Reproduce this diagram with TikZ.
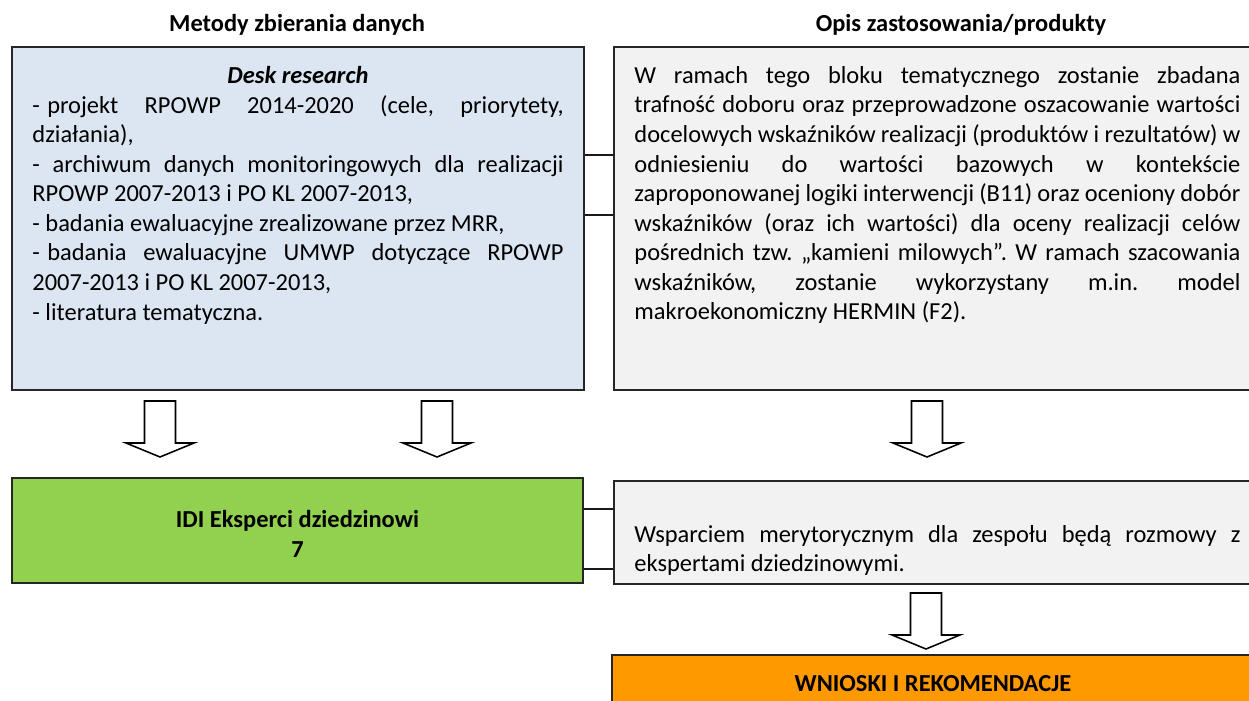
\documentclass[tikz,border=0pt]{standalone}
\usepackage{fontspec}
\setmainfont{Carlito}
\usetikzlibrary{positioning}

\definecolor{deskblue}{HTML}{DCE6F2}
\definecolor{opisgray}{HTML}{F2F2F2}
\definecolor{idigreen}{HTML}{92D050}
\definecolor{wnioskiorange}{HTML}{FF9900}
\newcommand{\itemdash}{-\kern0.3em}
\hyphenpenalty=10000
\exhyphenpenalty=10000
\frenchspacing

\begin{document}
\begin{tikzpicture}[x=0.45pt, y=-0.45pt,
  every node/.style={font=\fontsize{11}{13.3}\selectfont},
  box/.style={draw=black!85, line width=1.1pt, inner sep=0pt},
  title/.style={font=\fontsize{11}{13.3}\selectfont\bfseries},
  textblock/.style={anchor=north west, inner sep=0pt, align=justify},
  link/.style={draw=black!90, line width=0.9pt},
  blockarrow/.style={draw=black, fill=white, line width=0.7pt}]
  \useasboundingbox (0,0) rectangle (1249,701);
  \clip (0,0) rectangle (1249,701);

  % Titles
  \node[title] (ltitle) at (297,25) {Metody zbierania danych};
  \node[title] (rtitle) at (961,25) {Opis zastosowania/produkty};

  % Upper row
  \node[box, fill=deskblue, minimum width=257.4pt, minimum height=154.35pt] (desk) at (298,218.5) {};
  \node[box, fill=opisgray, minimum width=288pt, minimum height=154.35pt] (opis) at (934,218.5) {};

  \node[textblock, text width=239pt] (desktxt) at (32,66) {%
    \makebox[\linewidth]{\bfseries\itshape Desk research}\par
    \itemdash projekt RPOWP 2014-2020 (cele, priorytety,\linebreak działania),\par
    - archiwum danych monitoringowych dla realizacji\linebreak RPOWP 2007-2013 i PO KL 2007-2013,\par
    - badania ewaluacyjne zrealizowane przez MRR,\par
    \itemdash badania ewaluacyjne UMWP dotyczące RPOWP\linebreak 2007-2013 i PO KL 2007-2013,\par
    - literatura tematyczna.};

  \node[textblock, text width=272.7pt] (opistxt) at (634,66) {%
    W ramach tego bloku tematycznego zostanie zbadana\linebreak
    trafność doboru oraz przeprowadzone oszacowanie wartości\linebreak
    docelowych wskaźników realizacji (produktów i rezultatów) w\linebreak
    odniesieniu do wartości bazowych w kontekście\linebreak
    zaproponowanej logiki interwencji (B11) oraz oceniony dobór\linebreak
    wskaźników (oraz ich wartości) dla oceny realizacji celów\linebreak
    pośrednich tzw. „kamieni milowych”. W ramach szacowania\linebreak
    wskaźników, zostanie wykorzystany m.in. model\linebreak
    makroekonomiczny HERMIN (F2).};

  \draw[link] (desk.east |- 0,155) -- (opis.west |- 0,155);
  \draw[link] (desk.east |- 0,215) -- (opis.west |- 0,215);

  % Arrows
  \coordinate (a1) at (160,401);
  \coordinate (a2) at (437,401);
  \coordinate (a3) at (927,401);
  \coordinate (a4) at (926,593);
  \foreach \a in {a1,a2,a3,a4}
    \draw[blockarrow] (\a) ++(-15.5,0) -- ++(31,0) -- ++(0,42) -- ++(18.5,0)
      -- ++(-34,14) -- ++(-34,-14) -- ++(18.5,0) -- cycle;

  % Middle row
  \node[box, fill=idigreen, minimum width=256.95pt, minimum height=47.25pt] (idi) at (297.5,530.5) {};
  \node[title, align=center] (idilabel) at (297.5,534) {IDI Eksperci dziedzinowi\\7};
  \node[box, fill=opisgray, minimum width=288pt, minimum height=46.35pt] (wsparcie) at (934,532.5) {};
  \node[textblock, text width=272.7pt] (wsparcietxt) at (634,525) {%
    Wsparciem merytorycznym dla zespołu będą rozmowy z\linebreak
    ekspertami dziedzinowymi.};

  \draw[link] (idi.east |- 0,509) -- (wsparcie.west |- 0,509);
  \draw[link] (idi.east |- 0,569) -- (wsparcie.west |- 0,569);

  % Bottom
  \node[box, fill=wnioskiorange, minimum width=288.9pt, minimum height=25.65pt,
    font=\fontsize{11}{13.3}\selectfont\bfseries] (wnioski) at (933,683.5)
    {WNIOSKI I REKOMENDACJE};
\end{tikzpicture}
\end{document}
